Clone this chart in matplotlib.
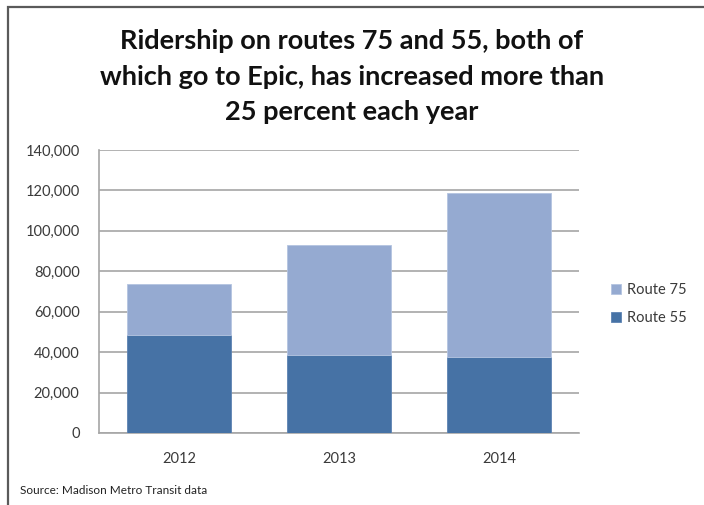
import matplotlib
matplotlib.use('Agg')
import matplotlib.pyplot as plt
from matplotlib.patches import Rectangle

years = ['2012', '2013', '2014']
route55 = [48500, 38400, 37800]
route75 = [25400, 54500, 80800]

DARK = '#4672a5'
LIGHT = '#95aad1'
GRID = '#a6a6a6'
TEXT = '#3a3a3a'

plt.rcParams['font.family'] = ['Lato', 'DejaVu Sans']

fig = plt.figure(figsize=(7.04, 5.05), dpi=100)

# outer frame (runs off the right and bottom edges)
fig.patches.append(Rectangle((8 / 704, -0.1), 1.2, (505 - 7) / 505 + 0.1,
                             transform=fig.transFigure, fill=False,
                             edgecolor='#5a5a5a', linewidth=1.6))

fig.text(0.5, 1 - 29 / 505, 'Ridership on routes 75 and 55, both of\n'
         'which go to Epic, has increased more than\n25 percent each year',
         ha='center', va='top', fontsize=19.5, fontweight='bold',
         linespacing=1.58, color='#111111', transform=fig.transFigure)

ax = fig.add_axes([99 / 704, (505 - 433) / 505, 480 / 704, 283 / 505])
x = range(len(years))
b55 = ax.bar(x, route55, width=0.645, color=DARK, edgecolor='#5d83b2',
             linewidth=0.6, label='Route 55', zorder=3)
b75 = ax.bar(x, route75, width=0.645, bottom=route55, color=LIGHT,
             edgecolor='#b4c4e0', linewidth=0.6, label='Route 75', zorder=3)

ax.set_xlim(-0.5, 2.5)
ax.set_ylim(0, 140000)
ax.set_yticks(range(0, 140001, 20000))
ax.yaxis.set_major_formatter(matplotlib.ticker.FuncFormatter(lambda v, p: f'{int(v):,}'))
ax.set_xticks(list(x))
ax.set_xticklabels(years)
ax.grid(axis='y', color=GRID, linewidth=1.2, zorder=0)
for s in ['top', 'right']:
    ax.spines[s].set_visible(False)
for s in ['left', 'bottom']:
    ax.spines[s].set_color(GRID)
    ax.spines[s].set_linewidth(1.2)
ax.tick_params(length=0, labelsize=10.5, labelcolor=TEXT)
ax.tick_params(axis='y', pad=14)
ax.tick_params(axis='x', pad=14)

fig.legend([b75, b55], ['Route 75', 'Route 55'], loc='center left',
           bbox_to_anchor=(598 / 704, 1 - 304 / 505), frameon=False,
           handlelength=0.7, handleheight=0.7, handletextpad=0.4,
           labelspacing=1.0, fontsize=10.5, labelcolor=TEXT)

fig.text(20 / 704, 1 - 491 / 505, 'Source: Madison Metro Transit data',
         fontsize=8.5, color='#222222', va='center')

fig.savefig('out.png', dpi=100)
